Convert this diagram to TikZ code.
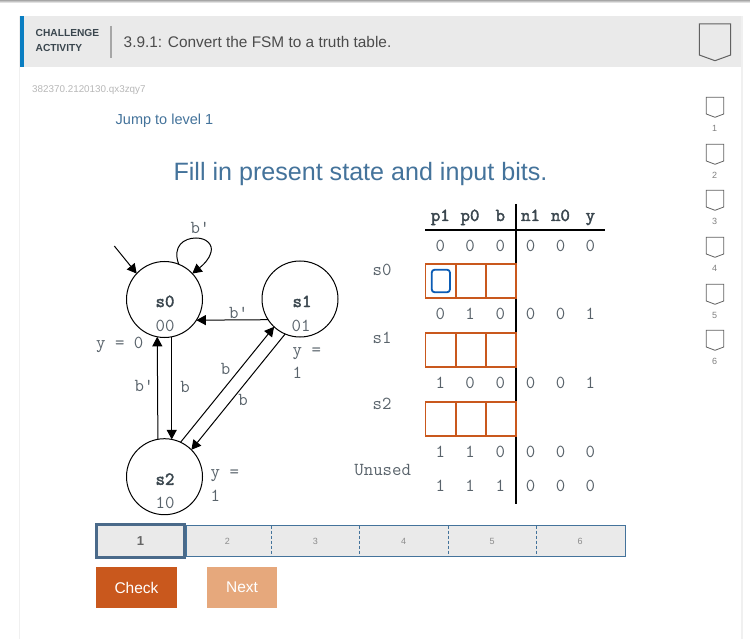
\documentclass[tikz,border=0pt]{standalone}
\usepackage{fontspec}
\setmainfont{Liberation Sans}
\newfontfamily\monoboldface[FakeBold=2.2]{Latin Modern Mono}
\usetikzlibrary{arrows.meta,calc}
\definecolor{hdrgrey}{HTML}{EAEAEA}
\definecolor{cardblue}{HTML}{0A7EC2}
\definecolor{zyblue}{HTML}{44739B}
\definecolor{zydark}{HTML}{4A6A8A}
\definecolor{zyorange}{HTML}{C9581D}
\definecolor{zypeach}{HTML}{E6A87C}
\definecolor{inkgrey}{HTML}{59636B}
\definecolor{inkdark}{HTML}{3A464E}
\definecolor{focusblue}{HTML}{0B5CB5}
\tikzset{
  statenode/.style={circle,draw=black,line width=1pt,minimum size=76pt,inner sep=0pt,outer sep=0pt},
  edge/.style={draw=black,line width=1pt,-{Triangle[length=9.5pt,width=10pt]}},
  mono/.style={font=\fontsize{18.3}{20}\selectfont\ttfamily,text=inkgrey,inner sep=0pt,anchor=center,text height=11pt,text depth=0pt},
  monob/.style={font=\fontsize{18.3}{20}\selectfont\monoboldface,text=inkdark,inner sep=0pt,anchor=center,text height=11pt,text depth=0pt},
  cell/.style={draw=zyorange,line width=1.6pt,fill=white,minimum width=30.4pt,minimum height=34pt,inner sep=0pt,outer sep=0pt},
  bookmark/.style={draw=black!62,line width=0.8pt,fill=none,line join=miter},
  tinynum/.style={font=\fontsize{9}{10}\selectfont,text=black!50,inner sep=0pt},
  barnum/.style={font=\fontsize{9}{10}\selectfont,text=black!45,inner sep=0pt},
  dashdiv/.style={draw=zyblue,line width=0.8pt,dash pattern=on 3pt off 2pt},
  btn/.style={font=\fontsize{15.5}{18}\selectfont,text=white,inner sep=0pt,minimum height=41pt}
}
\begin{document}
\begin{tikzpicture}[x=1pt,y=-1pt]
\useasboundingbox (0,0) rectangle (750,639);
\fill[white] (0,0) rectangle (750,639);
\fill[black!6] (19,16) rectangle (20,639);
\fill[black!6] (741,16) rectangle (742.5,639);
\fill[top color=black!35,bottom color=white] (0,0) rectangle (750,3);
% header
\fill[hdrgrey] (20,16) rectangle (741,67);
\fill[cardblue] (20,16) rectangle (24,67);
\draw[black!35,line width=1.5pt] (110.8,26) -- (110.8,58);
\node[anchor=west,inner sep=0pt,text=inkdark,font=\fontsize{10.2}{12}\selectfont\bfseries] (chal) at (35.5,33.3) {CHALLENGE};
\node[anchor=west,inner sep=0pt,text=inkdark,font=\fontsize{10.2}{12}\selectfont\bfseries] (acti) at (35.5,48.3) {ACTIVITY};
\node[anchor=west,inner sep=0pt,text=black!70,font=\fontsize{15.4}{18}\selectfont] (title) at (123.5,41.5) {3.9.1: Convert the FSM to a truth table.};
\node[anchor=west,inner sep=0pt,text=black!28,font=\fontsize{9.85}{11}\selectfont] (cid) at (32,90.3) {382370.2120130.qx3zqy7};
\node[anchor=west,inner sep=0pt,text=zyblue,font=\fontsize{14.5}{16}\selectfont] (jump) at (115.5,121) {Jump to level 1};
\node[inner sep=0pt,text=zyblue,font=\fontsize{25.1}{28}\selectfont] (fill) at (360.5,174) {Fill in present state and input bits.};
% bookmarks
\draw[bookmark,line width=1pt] (699.3,24) -- (730.7,24) -- (730.7,55) -- (715,60.7) -- (699.3,55) -- cycle;
\foreach \t/\n/\ny in {97.3/1/128.3,144.3/2/175.7,190.3/3/221.7,237.3/4/268.7,284.3/5/315.7,330.3/6/361.7}{
  \draw[bookmark] (706.3,\t) -- (723.7,\t) -- (723.7,\t+16.7) -- (715,\t+20) -- (706.3,\t+16.7) -- cycle;
  \node[tinynum] (mark\n) at (714.5,\ny) {\n};
}
% states
\node[statenode] (s0) at (164.5,299.5) {};
\node[statenode] (s1) at (300,299) {};
\node[statenode] (s2) at (164.5,476.7) {};
\node[monob] (s0t) at (165,301.5) {s0};
\node[monob] (s1t) at (302,301.5) {s1};
\node[monob] (s2t) at (165,479.3) {s2};
\node[mono] (s0c) at (165,326.3) {00};
\node[mono] (s1c) at (301,326.3) {01};
\node[mono] (s2c) at (165,503.3) {10};
\coordinate (init) at (114.3,246);
\draw[edge] (init) -- (s0.137.6);
\draw[edge] (s0.68.6) .. controls (172,246) and (184,238) .. (196,238) .. controls (207,238) and (213,245) .. (211,252) .. controls (209,260) and (203,265) .. (s0.43.4);
\draw[edge] (s1.213.5) -- (s0.-33.5);
\draw[edge] (s2.100.9) -- (s0.259.1);
\draw[edge] (s0.-79.1) -- (s2.79.1);
\draw[edge] (s2.65.3) -- (s1.227.4);
\draw[edge] (s1.247) -- (s2.45.2);
\node[mono] (lb1) at (200,228.5) {b'};
\node[mono] (lb2) at (238.5,313) {b'};
\node[mono] (lb3) at (144,386) {b'};
\node[mono] (lb4) at (185,386.5) {b};
\node[mono] (lb5) at (225.5,369) {b};
\node[mono] (lb6) at (243,399.5) {b};
\node[mono,anchor=west] (y0) at (96,343.3) {y = 0};
\node[mono,anchor=west] (y1a) at (292.5,350) {y =};
\node[mono,anchor=west] (y1b) at (292.5,373.3) {1};
\node[mono,anchor=west] (y2a) at (210.5,472) {y =};
\node[mono,anchor=west] (y2b) at (210.5,495.7) {1};
% table
\draw[black,line width=2pt] (425,230) -- (605,230);
\draw[black,line width=2pt] (516,204) -- (516,504);
\foreach \x/\t/\i in {440.3/p1/1,470/p0/2,500.3/b/3,530.5/n1/4,560.5/n0/5,590.3/y/6}{
  \node[monob] (h\i) at (\x,215.5) {\t};
}
\foreach \y/\r/\a/\b/\c/\d/\e/\f in {246/a/0/0/0/0/0/0,314/b/0/1/0/0/0/1,383/c/1/0/0/0/0/1,452/d/1/1/0/0/0/0,486/e/1/1/1/0/0/0}{
  \node[mono] (\r1) at (440.3,\y) {\a};
  \node[mono] (\r2) at (470,\y) {\b};
  \node[mono] (\r3) at (500.3,\y) {\c};
  \node[mono] (\r4) at (530.5,\y) {\d};
  \node[mono] (\r5) at (560.5,\y) {\e};
  \node[mono] (\r6) at (590.3,\y) {\f};
}
\foreach \y/\r in {281/p,350/q,418.7/r}{
  \node[cell] (\r1) at (440.7,\y) {};
  \node[cell] (\r2) at (471,\y) {};
  \node[cell] (\r3) at (501,\y) {};
}
\draw[focusblue,line width=1.8pt,rounded corners=3pt] (431.7,269.7) rectangle (450,292.3);
\node[mono] (ls0) at (382,270.5) {s0};
\node[mono] (ls1) at (382,338) {s1};
\node[mono] (ls2) at (382,404) {s2};
\node[mono] (lun) at (382.7,469.5) {Unused};
% progress bar
\fill[hdrgrey] (186,525.5) rectangle (625.7,556.5);
\draw[zyblue,line width=0.9pt] (186,525.5) rectangle (625.7,556.5);
\foreach \x in {271.4,359.3,448.2,536.4}{ \draw[dashdiv] (\x,525.5) -- (\x,556.5); }
\node[draw=zydark,line width=3pt,fill=hdrgrey,minimum width=88pt,minimum height=33pt,inner sep=0pt,font=\fontsize{13}{15}\selectfont\bfseries,text=black!60] (p1) at (140.5,540.8) {1};
\node[barnum] (p2) at (227.5,541.5) {2};
\node[barnum] (p3) at (315.4,541.5) {3};
\node[barnum] (p4) at (403.6,541.5) {4};
\node[barnum] (p5) at (492,541.5) {5};
\node[barnum] (p6) at (580,541.5) {6};
\node[btn,fill=zyorange,minimum width=81pt] (check) at (136.5,587.5) {Check};
\node[btn,fill=zypeach,minimum width=70pt] (next) at (242,587.5) {\raisebox{-0.5pt}{Next}};
\end{tikzpicture}
\end{document}
